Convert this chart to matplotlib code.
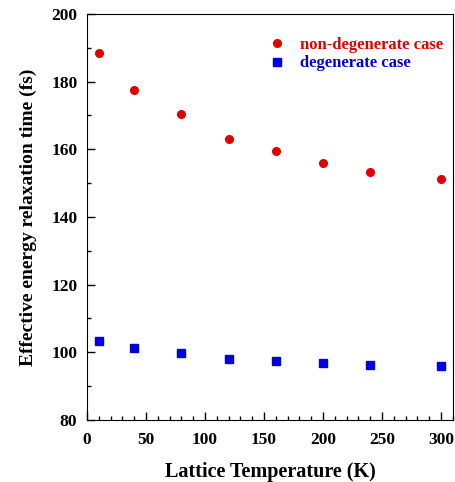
import numpy as np
import matplotlib
matplotlib.use('Agg')
import matplotlib.pyplot as plt
from matplotlib.ticker import MultipleLocator

# data
temperature = [10, 40, 80, 120, 160, 200, 240, 300]
tau_nondeg = [188.4, 177.4, 170.3, 163.0, 159.6, 156.0, 153.3, 151.2]
tau_deg = [103.4, 101.1, 99.8, 98.1, 97.4, 96.8, 96.1, 95.8]

plt.rcParams['font.family'] = ['Liberation Serif', 'DejaVu Serif']
plt.rcParams['font.weight'] = 'bold'

fig = plt.figure(figsize=(4.56, 4.82), dpi=100)
ax = fig.add_axes([0.191, 0.129, 0.802, 0.842])

ax.plot(temperature, tau_nondeg, 'o', color='#e00000', markersize=5.5,
        label='non-degenerate case')
ax.plot(temperature, tau_deg, 's', color='#0000e0', markersize=5.5,
        label='degenerate case')

ax.set_xlim(0, 310)
ax.set_ylim(80, 200)
ax.xaxis.set_major_locator(MultipleLocator(50))
ax.xaxis.set_minor_locator(MultipleLocator(10))
ax.yaxis.set_major_locator(MultipleLocator(20))
ax.yaxis.set_minor_locator(MultipleLocator(10))
ax.tick_params(which='both', direction='in', top=False, right=False)
ax.tick_params(which='major', length=6, width=1, labelsize=12.5)
ax.tick_params(axis='x', which='major', pad=9)
ax.tick_params(axis='y', which='major', pad=7)
ax.tick_params(which='minor', length=3, width=1)
for lbl in ax.get_xticklabels() + ax.get_yticklabels():
    lbl.set_fontweight('bold')

ax.set_xlabel('Lattice Temperature (K)', fontsize=14.5, fontweight='bold', labelpad=10)
ax.set_ylabel('Effective energy relaxation time (fs)', fontsize=14, fontweight='bold', labelpad=10)

leg = ax.legend(loc='upper left', bbox_to_anchor=(0.477, 0.960), frameon=False,
                handlelength=1.0, handletextpad=0.9, borderaxespad=0.0,
                labelspacing=0.15,
                labelcolor=['#e00000', '#0000e0'], prop={'weight': 'bold', 'size': 12})

fig.savefig('out.png', dpi=100)
